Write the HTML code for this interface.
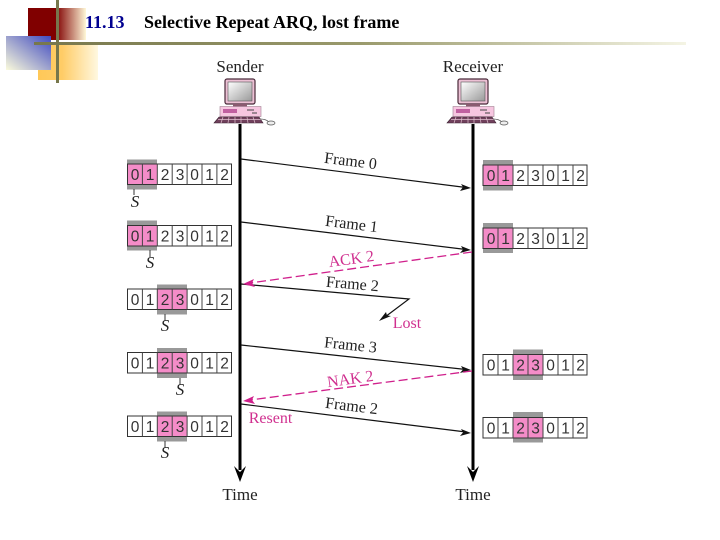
<!DOCTYPE html>
<html>
<head>
<meta charset="utf-8">
<style>
html,body{margin:0;padding:0;background:#fff}
svg{display:block}
text{font-family:"Liberation Serif",serif}
.d{font-family:"Liberation Sans",sans-serif;font-size:15.5px;fill:#333;text-anchor:middle}
.l{font-size:16px;fill:#222;text-anchor:middle}
.h{font-size:17px;fill:#222;text-anchor:middle}
.m{font-size:16px;fill:#d0308f;text-anchor:middle}
.s{font-size:17px;font-style:italic;fill:#222;text-anchor:middle}
.diagram{filter:blur(.35px)}
</style>
</head>
<body>
<svg width="720" height="540" viewBox="0 0 720 540" xmlns="http://www.w3.org/2000/svg">
<defs>
<linearGradient id="red" x1="0" x2="1" y1="0" y2="0"><stop offset="0" stop-color="#800000"/><stop offset=".48" stop-color="#800000"/><stop offset="1" stop-color="#fff8d8"/></linearGradient>
<linearGradient id="org" x1="0" x2="1" y1="0" y2="0"><stop offset="0" stop-color="#ffc858"/><stop offset=".4" stop-color="#ffcc66"/><stop offset="1" stop-color="#fff8e0"/></linearGradient>
<linearGradient id="blu" x1="1" x2="0" y1="0" y2="1"><stop offset="0" stop-color="#3f49c0"/><stop offset="1" stop-color="#fbfbdc"/></linearGradient>
<linearGradient id="rule" x1="0" x2="1" y1="0" y2="0"><stop offset="0" stop-color="#77774c"/><stop offset=".5" stop-color="#9a9a6c"/><stop offset="1" stop-color="#f4f4e4"/></linearGradient>
<linearGradient id="scr" x1="0" x2="1" y1="0" y2="1"><stop offset="0" stop-color="#fff"/><stop offset="1" stop-color="#999"/></linearGradient>
<g id="pc">
<rect x="-15" y="-45" width="30" height="25" rx="2" fill="#ecc0d4" stroke="#4a2a3a" stroke-width="1.2"/>
<rect x="-12" y="-42" width="24" height="19" fill="url(#scr)" stroke="#555" stroke-width=".6"/>
<rect x="-7" y="-20" width="14" height="2.5" fill="#8a5a70"/>
<rect x="-20" y="-17.500" width="41" height="10" fill="#f6c6e0" stroke="#a08090" stroke-width=".6"/>
<rect x="-17" y="-15" width="14" height="4" fill="#c060a0"/>
<path d="M7-14h7M12-11h5" stroke="#444" stroke-width="1"/>
<path d="M-21-7H19L23-1H-26Z" fill="#70405c" stroke="#3a2030" stroke-width=".6"/>
<path d="M-22-4.500H21M-17-7l-2 6M-11-7l-1 6M-5-7v6M1-7v6M7-7l1 6M13-7l2 6" stroke="#e0c0d0" stroke-width=".7"/>
<path d="M20-5q6 0 9 3" fill="none" stroke="#555" stroke-width=".7"/>
<ellipse cx="31" cy="-1" rx="4" ry="2" fill="#eee" stroke="#555" stroke-width=".7"/>
</g>
</defs>

<rect x="28" y="8" width="58" height="32" fill="url(#red)"/>
<rect x="38" y="45" width="60" height="35" fill="url(#org)"/>
<rect x="6" y="36" width="45" height="34" fill="url(#blu)"/>
<rect x="34" y="42" width="652" height="3" fill="url(#rule)"/>
<rect x="56" y="0" width="3" height="83" fill="#77774c"/>

<text x="85" y="28" font-size="18" font-weight="bold" fill="#000090">11.13</text>
<text x="144" y="28" font-size="18" font-weight="bold" fill="#000">Selective Repeat ARQ, lost frame</text>

<g class="diagram">
<text x="240" y="72" class="h">Sender</text>
<text x="473" y="72" class="h">Receiver</text>
<use href="#pc" x="240" y="124"/>
<use href="#pc" x="473" y="124"/>

<path d="M240 124V470M473 124V470" stroke="#000" stroke-width="3" fill="none"/>
<path d="M234 466L240 472L246 466L240 482Z" fill="#000"/>
<path d="M467 466L473 472L479 466L473 482Z" fill="#000"/>
<text x="240" y="500" class="h">Time</text>
<text x="473" y="500" class="h">Time</text>

<g stroke="#111" stroke-width="1.2" fill="none">
<path d="M241 159L466 187.500"/>
<path d="M241 222L466 249.500"/>
<path d="M241 284L409 299L385 317"/>
<path d="M241 345L466 369.500"/>
<path d="M241 404L466 432"/>
</g>
<g fill="#111">
<path d="M471 188L460 191L463 187L461 184Z"/>
<path d="M471 250L460 253L463 249.500L461 246Z"/>
<path d="M471 370L460 373L463 369.500L461 366Z"/>
<path d="M471 433L460 436L463 432.500L461 429Z"/>
<path d="M379 321L386 312L387 315.500L391 316Z"/>
</g>
<g stroke="#d0208c" stroke-width="1.300" stroke-dasharray="9 4" fill="none">
<path d="M472 252L250 283"/>
<path d="M472 371L250 400"/>
</g>
<g fill="#d0208c">
<path d="M243 284L254 279L252 283L255 287Z"/>
<path d="M243 401L254 396L252 400L255 404Z"/>
</g>

<text class="l" transform="translate(350 166) rotate(7)">Frame 0</text>
<text class="l" transform="translate(351 229) rotate(7)">Frame 1</text>
<text class="l" transform="translate(352 289) rotate(5)">Frame 2</text>
<text class="l" transform="translate(350 350) rotate(6)">Frame 3</text>
<text class="l" transform="translate(351 411) rotate(7)">Frame 2</text>
<text class="m" transform="translate(352 264) rotate(-8)">ACK 2</text>
<text class="m" transform="translate(351 384) rotate(-8)">NAK 2</text>
<text class="m" x="407" y="328">Lost</text>
<text class="m" x="270.500" y="423">Resent</text>

<!-- Sender windows -->
<g>
<rect x="127" y="159.500" width="30" height="30" fill="#999"/>
<rect x="127" y="164" width="30" height="20.500" fill="#f48cc8"/>
<rect x="127.500" y="164" width="104" height="20.500" fill="none" stroke="#333" stroke-width="1"/>
<path d="M142.400 164v20.500M157.300 164v20.500M172.200 164v20.500M187.100 164v20.500M202 164v20.500M216.900 164v20.500" stroke="#444"/>
<text class="d" y="180"><tspan x="135">0</tspan><tspan x="150">1</tspan><tspan x="165">2</tspan><tspan x="180">3</tspan><tspan x="194.500">0</tspan><tspan x="209.500">1</tspan><tspan x="224.500">2</tspan></text>
</g>
<g>
<rect x="127" y="220.500" width="30" height="30" fill="#999"/>
<rect x="127" y="225.500" width="30" height="20.500" fill="#f48cc8"/>
<rect x="127.500" y="225.500" width="104" height="20.500" fill="none" stroke="#333"/>
<path d="M142.400 225.500v20.500M157.300 225.500v20.500M172.200 225.500v20.500M187.100 225.500v20.500M202 225.500v20.500M216.900 225.500v20.500" stroke="#444"/>
<text class="d" y="241.500"><tspan x="135">0</tspan><tspan x="150">1</tspan><tspan x="165">2</tspan><tspan x="180">3</tspan><tspan x="194.500">0</tspan><tspan x="209.500">1</tspan><tspan x="224.500">2</tspan></text>
</g>
<g>
<rect x="157" y="284.500" width="30" height="30" fill="#999"/>
<rect x="157" y="289" width="30" height="20.500" fill="#f48cc8"/>
<rect x="127.500" y="289" width="104" height="20.500" fill="none" stroke="#333"/>
<path d="M142.400 289v20.500M157.300 289v20.500M172.200 289v20.500M187.100 289v20.500M202 289v20.500M216.900 289v20.500" stroke="#444"/>
<text class="d" y="305"><tspan x="135">0</tspan><tspan x="150">1</tspan><tspan x="165">2</tspan><tspan x="180">3</tspan><tspan x="194.500">0</tspan><tspan x="209.500">1</tspan><tspan x="224.500">2</tspan></text>
</g>
<g>
<rect x="157" y="348" width="30" height="30" fill="#999"/>
<rect x="157" y="352.500" width="30" height="20.500" fill="#f48cc8"/>
<rect x="127.500" y="352.500" width="104" height="20.500" fill="none" stroke="#333"/>
<path d="M142.400 352.500v20.500M157.300 352.500v20.500M172.200 352.500v20.500M187.100 352.500v20.500M202 352.500v20.500M216.900 352.500v20.500" stroke="#444"/>
<text class="d" y="368.500"><tspan x="135">0</tspan><tspan x="150">1</tspan><tspan x="165">2</tspan><tspan x="180">3</tspan><tspan x="194.500">0</tspan><tspan x="209.500">1</tspan><tspan x="224.500">2</tspan></text>
</g>
<g>
<rect x="157" y="411.500" width="30" height="30" fill="#999"/>
<rect x="157" y="416" width="30" height="20.500" fill="#f48cc8"/>
<rect x="127.500" y="416" width="104" height="20.500" fill="none" stroke="#333"/>
<path d="M142.400 416v20.500M157.300 416v20.500M172.200 416v20.500M187.100 416v20.500M202 416v20.500M216.900 416v20.500" stroke="#444"/>
<text class="d" y="432"><tspan x="135">0</tspan><tspan x="150">1</tspan><tspan x="165">2</tspan><tspan x="180">3</tspan><tspan x="194.500">0</tspan><tspan x="209.500">1</tspan><tspan x="224.500">2</tspan></text>
</g>

<path d="M134 189v6M150 250v7M165 314v7M180 378v7M165 441v7" stroke="#333" stroke-width="1"/>
<text class="s" x="135" y="207">S</text>
<text class="s" x="150" y="268">S</text>
<text class="s" x="165" y="331">S</text>
<text class="s" x="180" y="395">S</text>
<text class="s" x="165" y="458">S</text>

<!-- Receiver windows -->
<g>
<rect x="483" y="160" width="30" height="30.500" fill="#999"/>
<rect x="483" y="165" width="30" height="20.500" fill="#f48cc8"/>
<rect x="483" y="165" width="104" height="20.500" fill="none" stroke="#333"/>
<path d="M498 165v20.500M513 165v20.500M528 165v20.500M543 165v20.500M558 165v20.500M573 165v20.500" stroke="#444"/>
<text class="d" y="181"><tspan x="491">0</tspan><tspan x="505.500">1</tspan><tspan x="520.500">2</tspan><tspan x="535.500">3</tspan><tspan x="550.500">0</tspan><tspan x="565.500">1</tspan><tspan x="580.500">2</tspan></text>
</g>
<g>
<rect x="483" y="223" width="30" height="30" fill="#999"/>
<rect x="483" y="228" width="30" height="20.500" fill="#f48cc8"/>
<rect x="483" y="228" width="104" height="20.500" fill="none" stroke="#333"/>
<path d="M498 228v20.500M513 228v20.500M528 228v20.500M543 228v20.500M558 228v20.500M573 228v20.500" stroke="#444"/>
<text class="d" y="244"><tspan x="491">0</tspan><tspan x="505.500">1</tspan><tspan x="520.500">2</tspan><tspan x="535.500">3</tspan><tspan x="550.500">0</tspan><tspan x="565.500">1</tspan><tspan x="580.500">2</tspan></text>
</g>
<g>
<rect x="513" y="349.500" width="30" height="30.500" fill="#999"/>
<rect x="513" y="354.500" width="30" height="20.500" fill="#f48cc8"/>
<rect x="483" y="354.500" width="104" height="20.500" fill="none" stroke="#333"/>
<path d="M498 354.500v20.500M513 354.500v20.500M528 354.500v20.500M543 354.500v20.500M558 354.500v20.500M573 354.500v20.500" stroke="#444"/>
<text class="d" y="370.500"><tspan x="491">0</tspan><tspan x="505.500">1</tspan><tspan x="520.500">2</tspan><tspan x="535.500">3</tspan><tspan x="550.500">0</tspan><tspan x="565.500">1</tspan><tspan x="580.500">2</tspan></text>
</g>
<g>
<rect x="513" y="412" width="30" height="30.500" fill="#999"/>
<rect x="513" y="417.500" width="30" height="20.500" fill="#f48cc8"/>
<rect x="483" y="417.500" width="104" height="20.500" fill="none" stroke="#333"/>
<path d="M498 417.500v20.500M513 417.500v20.500M528 417.500v20.500M543 417.500v20.500M558 417.500v20.500M573 417.500v20.500" stroke="#444"/>
<text class="d" y="433.500"><tspan x="491">0</tspan><tspan x="505.500">1</tspan><tspan x="520.500">2</tspan><tspan x="535.500">3</tspan><tspan x="550.500">0</tspan><tspan x="565.500">1</tspan><tspan x="580.500">2</tspan></text>
</g>
</g>
</svg>
</body>
</html>
